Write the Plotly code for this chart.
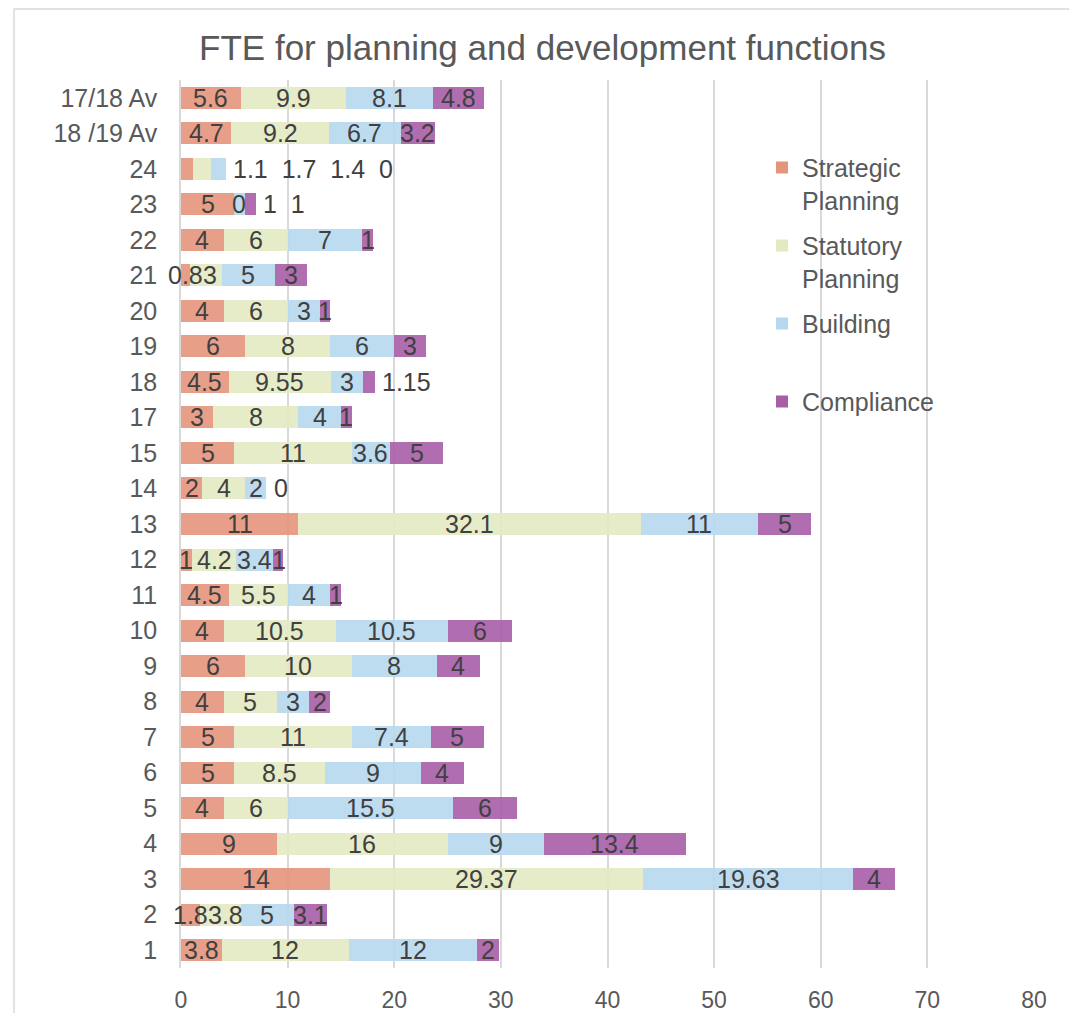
import plotly.graph_objects as go

categories = ["1", "2", "3", "4", "5", "6", "7", "8", "9", "10", "11", "12", "13",
              "14", "15", "17", "18", "19", "20", "21", "22", "23", "24",
              "18 /19 Av", "17/18 Av"]
strategic = [3.8, 1.8, 14, 9, 4, 5, 5, 4, 6, 4, 4.5, 1, 11, 2, 5, 3, 4.5, 6, 4, 0.8, 4, 5, 1.1, 4.7, 5.6]
statutory = [12, 3.8, 29.37, 16, 6, 8.5, 11, 5, 10, 10.5, 5.5, 4.2, 32.1, 4, 11, 8, 9.55, 8, 6, 3, 6, 0, 1.7, 9.2, 9.9]
building = [12, 5, 19.63, 9, 15.5, 9, 7.4, 3, 8, 10.5, 4, 3.4, 11, 2, 3.6, 4, 3, 6, 3, 5, 7, 1, 1.4, 6.7, 8.1]
compliance = [2, 3.1, 4, 13.4, 6, 4, 5, 2, 4, 6, 1, 1, 5, 0, 5, 1, 1.15, 3, 1, 3, 1, 1, 0, 3.2, 4.8]
x_ticks = [0, 10, 20, 30, 40, 50, 60, 70, 80]

series = [
    ("Strategic<br>Planning", strategic, "#E5957D"),
    ("Statutory<br>Planning", statutory, "#E3EAC2"),
    ("Building<br> ", building, "#B7D8EE"),
    ("Compliance", compliance, "#A75EA7"),
]
# labels that sit to the right of the bar in the original: row -> series indices
outside = {"24": [0, 1, 2, 3], "23": [2, 3], "18": [3], "14": [3]}

FONT = "Liberation Sans, Arial, sans-serif"
TXT = "#404040"
LBL = 25

# page is offset by the browser's 8px body margin; compensate
W, H = 1069, 1005
ML, MR, MT, MB = 173, 43, 72, 45
PW, PH = W - ML - MR, H - MT - MB
XMAX = 80
PX_PER_UNIT = PW / XMAX


def text_units(s):
    em = sum(0.278 if ch == "." else 0.556 for ch in s)
    return em * LBL / PX_PER_UNIT


fig = go.Figure()
for si, (name, vals, col) in enumerate(series):
    fig.add_trace(go.Bar(
        y=categories, x=vals, name=name, orientation="h",
        marker=dict(color=col, line=dict(width=0), opacity=0.9),
        legendgroup=str(si), hoverinfo="x+name",
    ))

annotations = []
for ci, c in enumerate(categories):
    total = sum(s[1][ci] for s in series)
    idxs = outside.get(c, [])
    if idxs:
        label = "\u00a0 ".join(f"{series[i][1][ci]:g}" for i in idxs)
        annotations.append(dict(x=total + 0.5, y=ci, xref="x", yref="y", text=label,
                                xanchor="left", yanchor="middle", showarrow=False,
                                font=dict(family=FONT, size=LBL, color=TXT)))
    cum = 0
    prev_right = -1e9
    for si, s in enumerate(series):
        v = s[1][ci]
        if si not in idxs:
            lab = f"{v:g}"
            w = text_units(lab)
            centre = cum + 0.4 if v == 0 else cum + v / 2
            if centre - w / 2 < prev_right:
                centre = prev_right + w / 2
            prev_right = centre + w / 2
            annotations.append(dict(x=centre, y=ci, xref="x", yref="y", text=lab,
                                    xanchor="center", yanchor="middle", showarrow=False,
                                    font=dict(family=FONT, size=LBL, color=TXT)))
        cum += v

fig.update_layout(
    width=W, height=H,
    paper_bgcolor="white", plot_bgcolor="white",
    barmode="stack", bargap=0.38,
    margin=dict(l=ML, r=MR, t=MT, b=MB, autoexpand=False),
    title=dict(text="FTE for planning and development functions", x=0.5, xref="container",
               y=1 - 40 / H, yanchor="middle",
               font=dict(family=FONT, size=35, color="#595959")),
    legend=dict(x=(762 - 181) / PW, y=0.927, xanchor="left", yanchor="top",
                bgcolor="rgba(0,0,0,0)", valign="top",
                font=dict(family=FONT, size=25, color="#595959"),
                tracegroupgap=10, traceorder="grouped", itemwidth=30),
    annotations=annotations,
    xaxis=dict(range=[0, XMAX], tickvals=x_ticks, showgrid=True, gridcolor="#D9D9D9",
               gridwidth=1.5, zeroline=False, showline=False, ticks="",
               tickfont=dict(family=FONT, size=23, color="#595959"),
               ticklabelstandoff=16, automargin=False),
    yaxis=dict(type="category", categoryorder="array", categoryarray=categories,
               showgrid=False, showline=True, linecolor="#D9D9D9", linewidth=1.5,
               ticks="", tickfont=dict(family=FONT, size=25, color="#595959"),
               ticklabelstandoff=17, automargin=False),
    shapes=[dict(type="rect", xref="paper", yref="paper",
                 x0=(6 - ML) / PW, x1=(1062 - ML) / PW,
                 y0=-(MB + 10) / PH, y1=1 + (MT - 1) / PH,
                 line=dict(color="#D9D9D9", width=1.5), layer="below")],
)

fig.write_html("out.html")
